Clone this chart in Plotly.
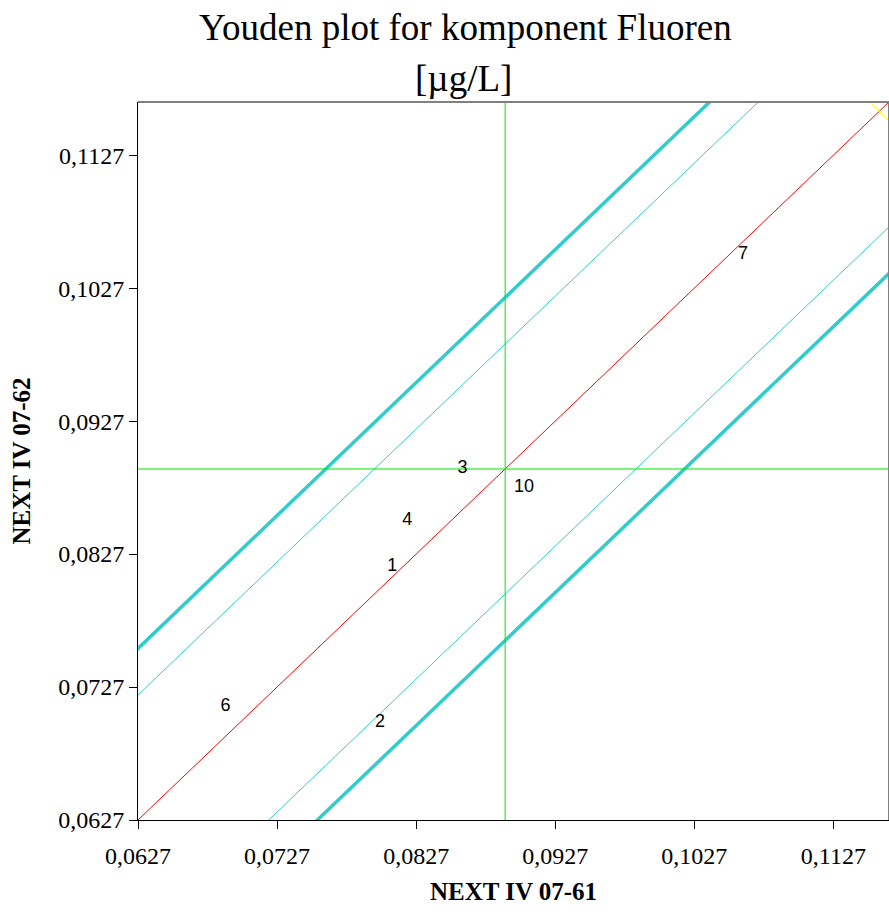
import plotly.graph_objects as go

# Data
labels = ["1", "2", "3", "4", "6", "7", "10"]
x_vals = [0.08098, 0.08011, 0.08604, 0.08206, 0.06899, 0.10620, 0.09045]
y_vals = [0.08180, 0.07007, 0.08917, 0.08526, 0.07127, 0.10526, 0.08774]

axis_min = 0.0627
axis_max = 0.1167
median_x = 0.0891
median_y = 0.0891
thick_offset = 0.0129
thin_offset = 0.0094
tick_vals = [0.0627, 0.0727, 0.0827, 0.0927, 0.1027, 0.1127]
tick_text = ["0,0627", "0,0727", "0,0827", "0,0927", "0,1027", "0,1127"]

CYAN = "#33CCCC"
RED = "#FF0000"
GREEN = "#00E800"

fig = go.Figure()
line_x = [axis_min - 0.03, axis_max + 0.03]


def diag(offset, color, width):
    fig.add_trace(go.Scatter(
        x=line_x, y=[v + offset for v in line_x], mode="lines",
        line=dict(color=color, width=width), hoverinfo="skip", showlegend=False))


diag(thick_offset, CYAN, 3.5)
diag(-thick_offset, CYAN, 3.5)
diag(thin_offset, CYAN, 1)
diag(-thin_offset, CYAN, 1)
diag(0, RED, 1)

# median lines
fig.add_trace(go.Scatter(x=[median_x, median_x], y=[axis_min - 0.01, axis_max + 0.01],
                         mode="lines", line=dict(color=GREEN, width=1),
                         hoverinfo="skip", showlegend=False))
fig.add_trace(go.Scatter(x=[axis_min - 0.01, axis_max + 0.01], y=[median_y, median_y],
                         mode="lines", line=dict(color=GREEN, width=1),
                         hoverinfo="skip", showlegend=False))

# yellow anti-diagonal near corner
yl_sum = 0.2320
fig.add_trace(go.Scatter(x=[0.1140, 0.1200], y=[yl_sum - 0.1140, yl_sum - 0.1200],
                         mode="lines", line=dict(color="#FFFF00", width=1),
                         hoverinfo="skip", showlegend=False))

fig.add_trace(go.Scatter(x=x_vals, y=y_vals, mode="text", text=labels,
                         textposition="middle center",
                         textfont=dict(family="Liberation Sans", size=18, color="black"),
                         showlegend=False, hoverinfo="skip"))

axis_common = dict(
    range=[axis_min, axis_max], tickvals=tick_vals, ticktext=tick_text,
    showgrid=False, zeroline=False, showline=True, linecolor="black", linewidth=1,
    mirror=False, ticks="outside", ticklen=8, tickcolor="black",
    tickfont=dict(family="Liberation Serif", size=24, color="black"),
)

fig.update_layout(
    width=889, height=912,
    margin=dict(l=138, r=0, t=102, b=92),
    paper_bgcolor="white", plot_bgcolor="white",
    showlegend=False,
    xaxis=dict(**axis_common, ticklabelstandoff=6,
               title=dict(text="<b>NEXT IV 07-61</b>", standoff=14,
                          font=dict(family="Liberation Serif", size=25, color="black"))),
    yaxis=dict(**axis_common,
               title=dict(text="<b>NEXT IV 07-62</b>", standoff=20,
                          font=dict(family="Liberation Serif", size=25, color="black"))),
    shapes=[
        dict(type="line", xref="paper", yref="paper", x0=0, x1=1, y0=1, y1=1,
             line=dict(color="#808080", width=2)),
        dict(type="line", xref="paper", yref="paper", x0=1, x1=1, y0=0, y1=1,
             line=dict(color="#808080", width=2)),
    ],
    annotations=[
        dict(text="Youden plot for komponent Fluoren", xref="paper", yref="paper",
             x=(465 - 138) / 751, y=1 + (102 - 27) / 718, xanchor="center", yanchor="middle",
             showarrow=False, font=dict(family="Liberation Serif", size=37, color="black")),
        dict(text="[µg/L]", xref="paper", yref="paper",
             x=(463 - 138) / 751, y=1 + (102 - 78) / 718, xanchor="center", yanchor="middle",
             showarrow=False, font=dict(family="Liberation Serif", size=37, color="black")),
    ],
)

fig.write_html("out.html")
